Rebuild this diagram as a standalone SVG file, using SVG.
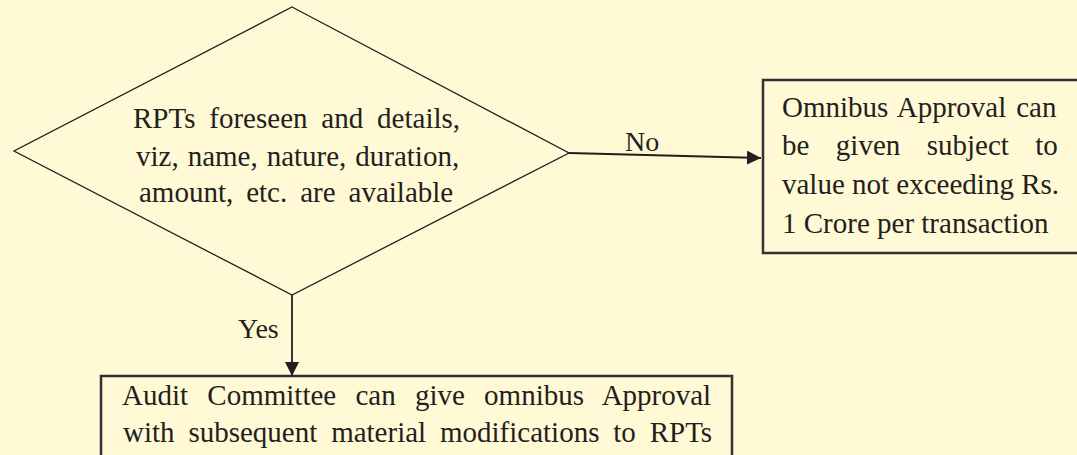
<svg xmlns="http://www.w3.org/2000/svg" width="1077" height="455" viewBox="0 0 1077 455">
<defs>
<style>
.t{font-family:"Liberation Serif","Times New Roman",serif;font-size:29px;fill:#231f20}
.lbl{font-family:"Liberation Serif","Times New Roman",serif;font-size:28px;fill:#231f20}
.box{fill:#fff9d6;stroke:#333132;stroke-width:2.5}
.con{stroke:#231f20;stroke-width:1.8;fill:none}
</style>
<marker id="ah" markerWidth="14" markerHeight="14" refX="14" refY="7" orient="auto" markerUnits="userSpaceOnUse">
<path d="M0,0 L14,7 L0,14 Z" fill="#231f20"/>
</marker>
</defs>
<rect width="1077" height="455" fill="#fff9d6"/>
<g id="decision">
<polygon points="292,7 569,153 292,295 14,151" fill="#fff9d6" stroke="#231f20" stroke-width="1.3"/>
<text class="t" x="133" y="128" style="word-spacing:6.6px">RPTs foreseen and details,</text>
<text class="t" x="136" y="166" style="word-spacing:1.7px">viz, name, nature, duration,</text>
<text class="t" x="139" y="202" style="word-spacing:5.7px">amount, etc. are available</text>
</g>
<g id="omnibus">
<rect class="box" x="763" y="80" width="330" height="173"/>
<text class="t" x="782" y="117" style="word-spacing:2.7px">Omnibus Approval can</text>
<text class="t" x="782" y="155" style="word-spacing:19.2px">be given subject to</text>
<text class="t" x="782" y="194">value not exceeding Rs.</text>
<text class="t" x="782" y="233">1 Crore per transaction</text>
</g>
<g id="audit">
<rect class="box" x="101" y="376" width="631" height="100"/>
<text class="t" x="122" y="405" style="word-spacing:12px">Audit Committee can give omnibus Approval</text>
<text class="t" x="123" y="442" style="word-spacing:6.6px">with subsequent material modifications to RPTs</text>
</g>
<g id="connectors">
<line class="con" x1="569" y1="153" x2="761" y2="158" marker-end="url(#ah)"/>
<text class="lbl" x="625" y="151">No</text>
<line class="con" x1="292" y1="295" x2="292" y2="376" marker-end="url(#ah)"/>
<text class="lbl" x="238" y="338">Yes</text>
</g>
</svg>
